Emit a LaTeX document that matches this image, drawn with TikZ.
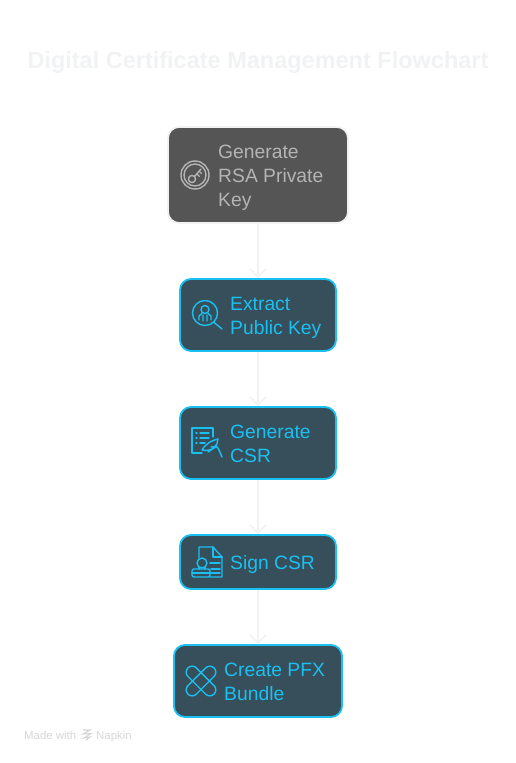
\documentclass[tikz,border=0pt]{standalone}
\usepackage{fontspec}
\setmainfont{Liberation Sans}
\usetikzlibrary{positioning,arrows.meta}
\definecolor{stepfill}{HTML}{374F5A}
\definecolor{stepline}{HTML}{1AC0F2}
\definecolor{stepgray}{HTML}{555555}
\definecolor{graytext}{HTML}{B4B4B4}
\definecolor{faint}{HTML}{F1F2F3}
\tikzset{
  stepbox/.style={draw=stepline,line width=1.8pt,fill=stepfill,rounded corners=11pt,inner sep=0pt},
  keybox/.style={draw=faint,line width=1.8pt,fill=stepgray,rounded corners=11pt,inner sep=0pt},
  steptext/.style={text=stepline,font=\fontsize{19.3}{24}\selectfont,align=left,anchor=west,inner sep=0pt},
  foottext/.style={text=graytext!55,font=\fontsize{11.4}{12}\selectfont,anchor=base west,inner sep=0pt},
  icon/.style={draw=stepline,line width=1.4pt,line cap=round,line join=round},
  link/.style={draw=faint,line width=1.6pt,-{Straight Barb[length=8pt,width=16pt,line width=1.6pt]}}
}
\begin{document}
\begin{tikzpicture}[x=1pt,y=-1pt]
\useasboundingbox (0,0) rectangle (516,763);
\node[text=faint,font=\fontsize{23.5}{30}\selectfont\bfseries] (title) at (258,62.5) {Digital Certificate Management Flowchart};
% boxes
\node[keybox,minimum width=180pt,minimum height=96pt] (rsa) at (258,175) {};
\node[stepbox,minimum width=156pt,minimum height=72pt] (extract) at (258,315) {};
\node[stepbox,minimum width=156pt,minimum height=72pt] (csr) at (258,443) {};
\node[stepbox,minimum width=156pt,minimum height=54pt] (sign) at (258,562) {};
\node[stepbox,minimum width=168pt,minimum height=72pt] (pfx) at (258,681) {};
% labels
\node[steptext,text=graytext] (rsatext) at (218,178) {Generate\\RSA Private\\Key};
\node[steptext] (extracttext) at (230,318) {Extract\\Public Key};
\node[steptext] (csrtext) at (230,444) {Generate\\CSR};
\node[steptext] (signtext) at (230,564.5) {Sign CSR};
\node[steptext] (pfxtext) at (224,682) {Create PFX\\Bundle};
% arrows
\draw[link] (rsa) -- (extract);
\draw[link] (extract) -- (csr);
\draw[link] (csr) -- (sign);
\draw[link] (sign) -- (pfx);
% key icon
\begin{scope}[shift={(195,175)}]
  \draw[icon,draw=graytext] (0,0) circle (14);
  \draw[icon,draw=graytext] (0,0) circle (11);
  \draw[icon,draw=graytext] (-3,4) circle (3.6);
  \draw[icon,draw=graytext] (-0.5,1.5) -- (6,-6) (2,-1) -- (4.5,1.5) (4,-4) -- (6.5,-1.5);
\end{scope}
% magnifier icon
\begin{scope}[shift={(205,313)}]
  \draw[icon] (0,0) circle (12.5);
  \draw[icon] (8.5,9) -- (17,16);
  \draw[icon] (0,-3.5) circle (4);
  \draw[icon] (-6,7) -- (-6,3) -- (-3,0.5) (6,7) -- (6,3) -- (3,0.5) (-2,8) -- (-2,2) (2,8) -- (2,2);
\end{scope}
% document and quill icon
\begin{scope}[shift={(192,428)}]
  \draw[icon] (21,9) -- (21,0) -- (0,0) -- (0,25) -- (10,25);
  \draw[icon] (4,5) -- (5,5) (8,5) -- (17,5) (4,10) -- (5,10) (8,10) -- (17,10) (4,15) -- (5,15) (8,15) -- (13,15);
  \draw[icon] (10,22) .. controls (14,15) and (21,12) .. (26,11) .. controls (26,18) and (20,24) .. (10,22);
  \draw[icon] (16,24) -- (25,18) (19,19) .. controls (24,18) and (26,19) .. (27,22) -- (30,29);
\end{scope}
% stamped document icon
\begin{scope}[shift={(192,547)}]
  \draw[icon] (7,11) -- (7,0) -- (21,0) -- (30,10) -- (30,30) -- (18,30);
  \draw[icon] (21,0) -- (21,10) -- (30,10);
  \draw[icon] (18,16) -- (28,16) (19,22) -- (28,22) (19,26) -- (28,26);
  \draw[icon] (10,16) circle (5);
  \draw[icon] (7,20.5) -- (7,22) (13,20.5) -- (13,22);
  \draw[icon,rounded corners=2pt] (0,22) rectangle (18,30);
  \draw[icon] (0,26) -- (18,26);
\end{scope}
% crossed bands icon
\begin{scope}[shift={(201,681)}]
  \draw[icon,rotate=45,rounded corners=6pt] (-18.5,-6) rectangle (18.5,6);
  \draw[icon,rotate=-45,rounded corners=6pt] (-18.5,-6) rectangle (18.5,6);
\end{scope}
% footer
\node[foottext] (made) at (24,739) {Made with};
\node[foottext] (napkin) at (96,739) {Napkin};
\draw[graytext!55,line width=1.1pt] (83,730) -- (90,730) -- (83,734) -- (91,733.5) -- (84,738) -- (90,737) -- (86,740);
\end{tikzpicture}
\end{document}
